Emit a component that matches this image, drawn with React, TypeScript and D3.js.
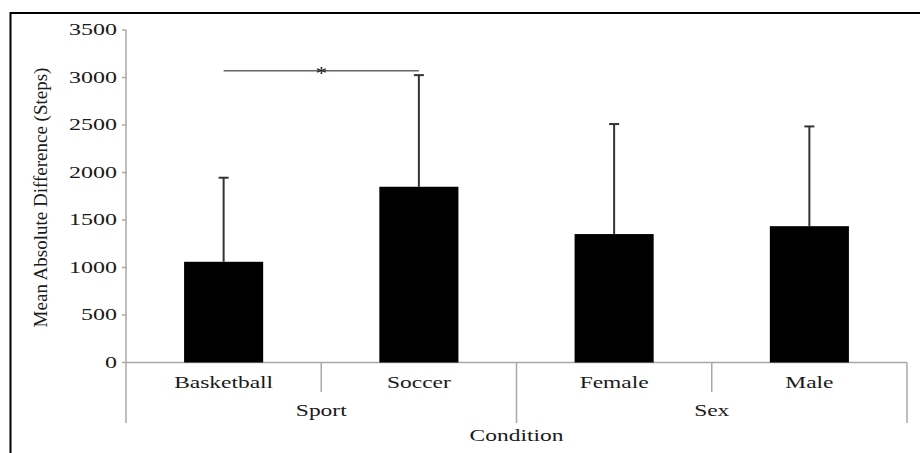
import React from "react";
import * as d3 from "d3";

// Mean absolute difference in steps by condition, with SD error bars
const conditions = ["Basketball", "Soccer", "Female", "Male"];
const means = [1060, 1850, 1352, 1435];
const sds = [885, 1175, 1158, 1050];
const groups = ["Sport", "Sex"];
const groupMembers = [["Basketball", "Soccer"], ["Female", "Male"]];
const yTicks = [0, 500, 1000, 1500, 2000, 2500, 3000, 3500];
const sigPair = ["Basketball", "Soccer"];
const sigLevel = 3070;

const W = 920;
const H = 453;
const FONT = "'Liberation Serif', 'Times New Roman', serif";
const AXIS = "#a8a8a8";

export default function App() {
  const x = d3.scaleBand<string>().domain(conditions).range([126, 907]).padding(0);
  const y = d3.scaleLinear().domain([0, 3500]).range([362.5, 30]);
  const bw = x.bandwidth() * 0.405;
  const y0 = y(0);
  const cx = (c: string) => (x(c) as number) + x.bandwidth() / 2;

  const shortDrop = 392;
  const longDrop = 423;

  // group boundaries along the x axis
  const groupBounds = groupMembers.map((m) => [x(m[0]) as number, (x(m[m.length - 1]) as number) + x.bandwidth()]);

  return (
    <svg width={W} height={H} style={{ position: "absolute", left: 0, top: 0 }} fontFamily={FONT}>
      <rect x={0} y={0} width={W} height={H} fill="#fff" />
      {/* outer frame */}
      <rect x={10.5} y={13} width={1000} height={1000} fill="none" stroke="#000" strokeWidth={2} />

      {/* y axis */}
      <line x1={126} x2={126} y1={y(3500)} y2={longDrop} stroke={AXIS} strokeWidth={1.5} />
      {yTicks.map((t) => (
        <g key={t}>
          <line x1={122} x2={126} y1={y(t)} y2={y(t)} stroke={AXIS} strokeWidth={1.5} />
          <g transform={`translate(117,${y(t) + 5}) scale(1.5,1)`}>
            <text textAnchor="end" fontSize={16} fill="#1a1a1a">{t}</text>
          </g>
        </g>
      ))}

      {/* x axis and category dividers */}
      <line x1={126} x2={907} y1={y0} y2={y0} stroke={AXIS} strokeWidth={1.5} />
      {groupMembers.map((m, gi) =>
        m.slice(1).map((c) => (
          <line key={c} x1={x(c) as number} x2={x(c) as number} y1={y0} y2={shortDrop} stroke={AXIS} strokeWidth={1.5} />
        ))
      )}
      {groupBounds.map((b, i) => (
        <line key={i} x1={b[1]} x2={b[1]} y1={y0} y2={longDrop} stroke={AXIS} strokeWidth={1.5} />
      ))}

      {/* bars */}
      {conditions.map((c, i) => (
        <rect key={c} x={cx(c) - bw / 2} y={y(means[i])} width={bw} height={y0 - y(means[i])} fill="#000" />
      ))}

      {/* error bars (upper) */}
      {conditions.map((c, i) => {
        const top = y(means[i] + sds[i]);
        return (
          <g key={c} stroke="#333" strokeWidth={2}>
            <line x1={cx(c)} x2={cx(c)} y1={y(means[i])} y2={top} />
            <line x1={cx(c) - 5} x2={cx(c) + 5} y1={top} y2={top} />
          </g>
        );
      })}

      {/* significance bracket */}
      <line x1={cx(sigPair[0])} x2={cx(sigPair[1])} y1={y(sigLevel)} y2={y(sigLevel)} stroke="#666" strokeWidth={1.5} />
      <g transform={`translate(${(cx(sigPair[0]) + cx(sigPair[1])) / 2},${y(sigLevel) + 9}) scale(1.3,1)`}>
        <text textAnchor="middle" fontSize={18} fill="#222">*</text>
      </g>

      {/* category labels */}
      {conditions.map((c) => (
        <g key={c} transform={`translate(${cx(c)},388) scale(1.38,1)`}>
          <text textAnchor="middle" fontSize={17} fill="#1a1a1a">{c}</text>
        </g>
      ))}

      {/* group labels */}
      {groups.map((g, i) => (
        <g key={g} transform={`translate(${(groupBounds[i][0] + groupBounds[i][1]) / 2},416) scale(1.38,1)`}>
          <text textAnchor="middle" fontSize={17} fill="#1a1a1a">{g}</text>
        </g>
      ))}

      {/* axis titles */}
      <g transform={`translate(516.5,441) scale(1.38,1)`}>
        <text textAnchor="middle" fontSize={17} fill="#1a1a1a">Condition</text>
      </g>
      <g transform="translate(47,197.5) rotate(-90)">
        <text textAnchor="middle" fontSize={19} fill="#1a1a1a">Mean Absolute Difference (Steps)</text>
      </g>
    </svg>
  );
}
